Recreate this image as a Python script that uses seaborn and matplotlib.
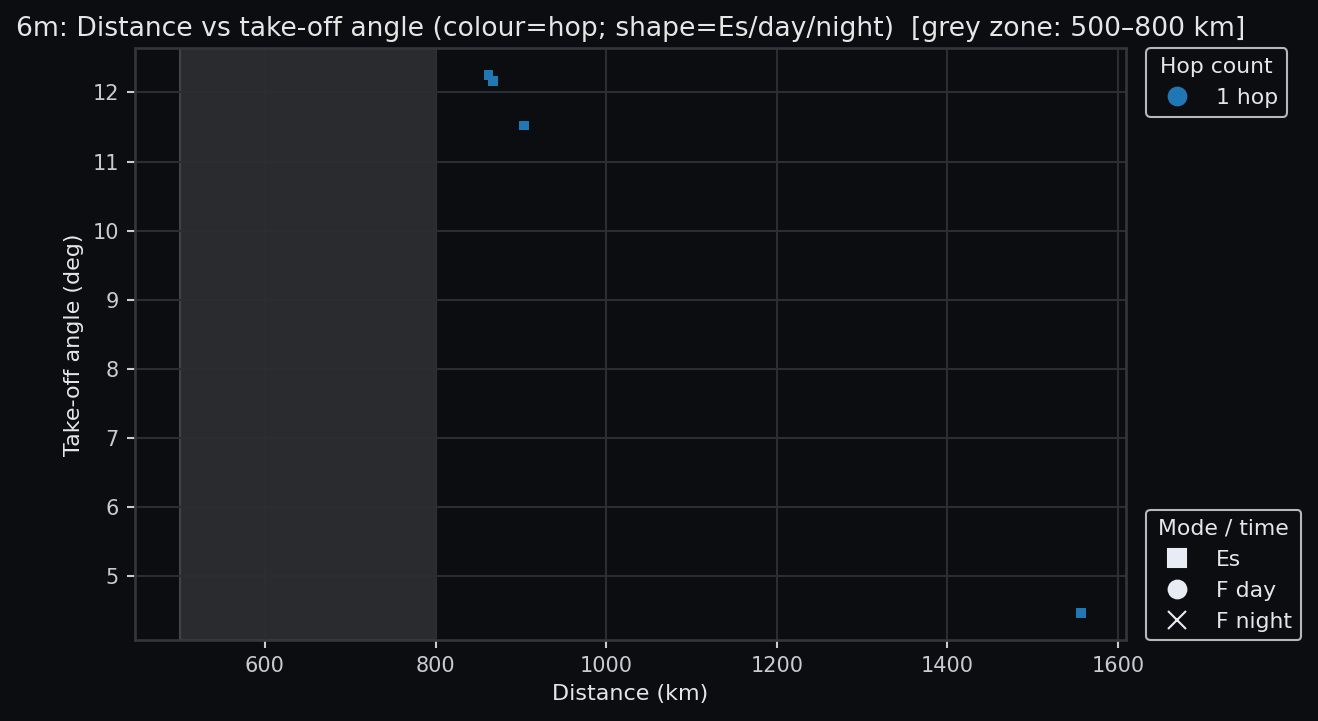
import matplotlib
matplotlib.use('Agg')
import matplotlib.pyplot as plt
from matplotlib.lines import Line2D
import pandas as pd
import seaborn as sns

# Data
distance_km = [862, 867, 904, 1557]
takeoff_deg = [12.25, 12.17, 11.52, 4.46]
hop_count = [1, 1, 1, 1]
mode_time = ['Es', 'Es', 'Es', 'Es']

grey_zone = (500, 800)

bg = '#0b0d11'
fg = '#e6e6e6'
tick_c = '#c8ccd2'
grid_c = '#2a2d33'

sns.set_theme(style='dark')
plt.rcParams.update({
    'figure.facecolor': bg,
    'axes.facecolor': bg,
    'axes.edgecolor': '#33373d',
    'axes.labelcolor': fg,
    'text.color': fg,
    'xtick.color': tick_c,
    'ytick.color': tick_c,
    'font.family': ['DejaVu Sans'],
})

df = pd.DataFrame({'Distance': distance_km, 'Angle': takeoff_deg,
                   'Hop': hop_count, 'Mode': mode_time})

hop_colors = {1: '#1f77b4'}
mode_markers = {'Es': 's', 'F day': 'o', 'F night': 'x'}

fig, ax = plt.subplots(figsize=(8.793, 4.807), dpi=150)
fig.subplots_adjust(left=0.102, right=0.854, top=0.933, bottom=0.112)

ax.axvspan(grey_zone[0], grey_zone[1], color='#2c2d31', alpha=0.95, zorder=0,
           ec='#44464b', lw=1)

for mode, sub in df.groupby('Mode'):
    sns.scatterplot(data=sub, x='Distance', y='Angle', hue='Hop',
                    palette=hop_colors, marker=mode_markers[mode], s=22,
                    linewidth=0, ax=ax, legend=False, zorder=3)

ax.grid(True, color=grid_c, linewidth=1, zorder=1)
ax.set_axisbelow(True)
ax.tick_params(axis='both', labelsize=10, length=4, width=1, left=True, bottom=True)
for sp in ax.spines.values():
    sp.set_color('#33373d')

ax.set_xlabel('Distance (km)', fontsize=10.7)
ax.set_ylabel('Take-off angle (deg)', fontsize=10.7)
ax.set_title('6m: Distance vs take-off angle (colour=hop; shape=Es/day/night)  [grey zone: 500\u2013800 km]',
             fontsize=12.75, loc='left', x=-0.12, color=fg)

hop_handles = [Line2D([], [], marker='o', ls='', color=hop_colors[1], markersize=8.5, label='1 hop')]
leg1 = ax.legend(handles=hop_handles, title='Hop count', loc='upper left',
                 bbox_to_anchor=(1.02, 1.0), borderaxespad=0, fontsize=10.5,
                 title_fontsize=10.5, facecolor=bg, edgecolor='#b8b8b8', framealpha=1)
ax.add_artist(leg1)

mode_handles = [Line2D([], [], marker=mode_markers[m], ls='', color='#e8edf5',
                       markersize=8.5, label=m) for m in ['Es', 'F day', 'F night']]
leg2 = ax.legend(handles=mode_handles, title='Mode / time', loc='lower left',
                 bbox_to_anchor=(1.02, 0.0), borderaxespad=0, fontsize=10.5,
                 title_fontsize=10.5, facecolor=bg, edgecolor='#b8b8b8', framealpha=1)
for lg in (leg1, leg2):
    for t in lg.get_texts():
        t.set_color(fg)
    lg.get_title().set_color(fg)

fig.savefig('out.png', dpi=150, facecolor=bg)
